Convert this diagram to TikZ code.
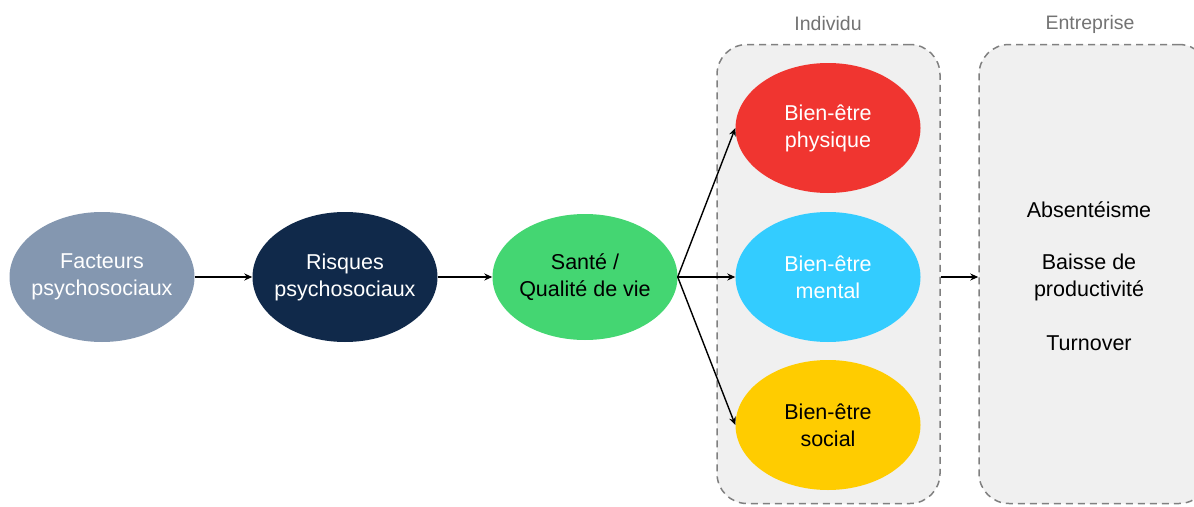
\documentclass[tikz,border=0pt]{standalone}
\usepackage{fontspec}
\setmainfont{Liberation Sans}
\usetikzlibrary{shapes.geometric,arrows.meta}
\definecolor{cFact}{HTML}{8497B0}
\definecolor{cRisq}{HTML}{10294A}
\definecolor{cSante}{HTML}{44D672}
\definecolor{cRed}{HTML}{F03530}
\definecolor{cCyan}{HTML}{33CCFF}
\definecolor{cYel}{HTML}{FFCC00}
\definecolor{cBox}{HTML}{F0F0F0}
\definecolor{cBorder}{HTML}{808080}
\definecolor{cLabel}{HTML}{737373}
\begin{document}
\begin{tikzpicture}[x=1pt,y=-1pt,
  ell/.style={ellipse,minimum width=185pt,minimum height=130pt,inner sep=0pt},
  etxt/.style={align=center,font=\fontsize{21.5}{27}\selectfont,text=#1},
  grp/.style={draw=cBorder,fill=cBox,dashed,dash pattern=on 7pt off 5pt,line width=1.5pt,rounded corners=30pt},
  arr/.style={-{Stealth[length=8pt,width=7pt]},line width=1.4pt,black},
  lbl/.style={text=cLabel,font=\fontsize{19.5}{22}\selectfont},
  txt/.style={align=center,font=\fontsize{21.5}{27}\selectfont}]
\useasboundingbox (0,0) rectangle (1194,506);
\node[grp,minimum width=223pt,minimum height=459pt,inner sep=0pt] (ind) at (828.5,274) {};
\node[grp,minimum width=230pt,minimum height=459pt,inner sep=0pt] (ent) at (1094,274) {};
\node[lbl] (lind) at (828,24) {Individu};
\node[lbl] (lent) at (1090,24) {Entreprise};
\node[ell,fill=cFact,label={[etxt=white]center:Facteurs\\psychosociaux}] (fact) at (102,277) {};
\node[ell,fill=cRisq,label={[etxt=white]center:Risques\\psychosociaux}] (risq) at (345,277) {};
\node[ell,fill=cSante,minimum height=126pt,label={[etxt=black]center:Santé /\\Qualité de vie}] (sante) at (585,277) {};
\node[ell,fill=cRed,label={[etxt=white]center:Bien-être\\physique}] (phys) at (828,128) {};
\node[ell,fill=cCyan,label={[etxt=white]center:Bien-être\\mental}] (ment) at (828,277) {};
\node[ell,fill=cYel,label={[etxt=black]center:Bien-être\\social}] (soc) at (828,425) {};
\node[txt] (abs) at (1089,210) {Absentéisme};
\node[txt] (bais) at (1089,277) {Baisse de\\productivité};
\node[txt] (turn) at (1089,343) {Turnover};
\draw[arr] (fact) -- (risq);
\draw[arr] (risq) -- (sante);
\draw[arr] (sante.east) -- (phys.west);
\draw[arr] (sante.east) -- (ment.west);
\draw[arr] (sante.east) -- (soc.west);
\draw[arr] (ind.east |- ment) -- (ent.west |- ment);
\end{tikzpicture}
\end{document}
